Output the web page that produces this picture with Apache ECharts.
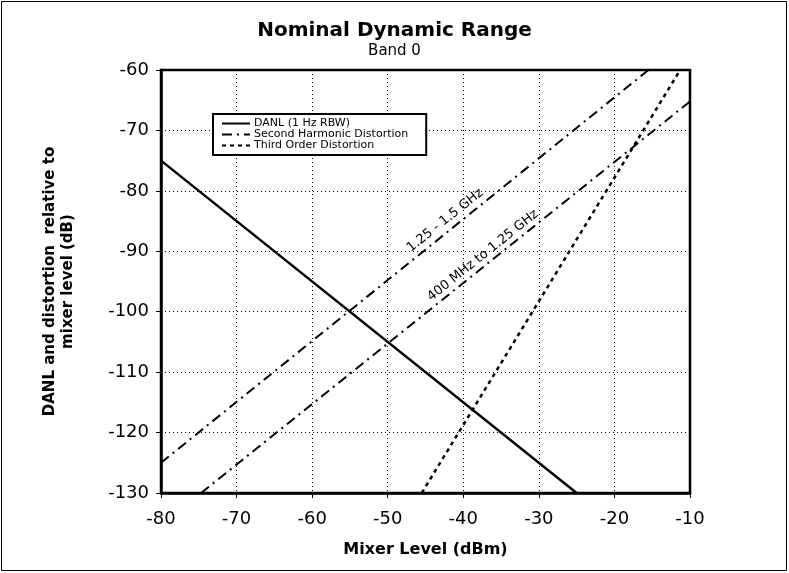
<!DOCTYPE html>
<html>
<head>
<meta charset="utf-8">
<script src="https://cdn.jsdelivr.net/npm/echarts@6/dist/echarts.min.js"></script>
<style>
  html, body { margin: 0; padding: 0; background: #fff; }
  #chart { width: 789px; height: 573px; }
</style>
</head>
<body>
<div id="chart"></div>
<script>
// Axis ranges and ticks (dBm / dB)
const xTicks = [-80, -70, -60, -50, -40, -30, -20, -10];
const yTicks = [-60, -70, -80, -90, -100, -110, -120, -130];

// DANL (1 Hz RBW): endpoints of the straight line
const danlMixer = [-80, -25];
const danlLevel = [-75, -130];

// Second harmonic distortion, 1.25 - 1.5 GHz
const shHighMixer = [-80, -15.5];
const shHighLevel = [-125, -60];

// Second harmonic distortion, 400 MHz to 1.25 GHz
const shLowMixer = [-74.7, -10];
const shLowLevel = [-130, -65.2];

// Third order distortion
const toiMixer = [-45.5, -11.3];
const toiLevel = [-130, -60];

// Band annotations placed along the second harmonic lines
const bandLabels = ['1.25 - 1.5 GHz', '400 MHz to 1.25 GHz'];
const bandLabelMixer = [-42.4, -37.4];
const bandLabelLevel = [-84.9, -90.7];

const FONT = '"DejaVu Sans", Verdana, sans-serif';

function pairs(xs, ys) {
  return xs.map((x, i) => [x, ys[i]]);
}

const chart = echarts.init(document.getElementById('chart'), null, { renderer: 'canvas' });

const option = {
  backgroundColor: '#ffffff',
  animation: false,
  title: {
    text: 'Nominal Dynamic Range',
    subtext: 'Band 0',
    left: 'center',
    top: 16,
    itemGap: 3,
    textStyle: { fontFamily: FONT, fontSize: 20, fontWeight: 'bold', color: '#000' },
    subtextStyle: { fontFamily: FONT, fontSize: 15, color: '#000' }
  },
  legend: {
    data: ['DANL (1 Hz RBW)', 'Second Harmonic Distortion', 'Third Order Distortion'],
    orient: 'vertical',
    left: 213,
    top: 114,
    padding: [4, 18, 4, 8],
    itemGap: 0,
    itemWidth: 28,
    itemHeight: 10,
    borderColor: '#000',
    borderWidth: 2,
    backgroundColor: '#fff',
    itemStyle: { opacity: 0 },
    textStyle: { fontFamily: FONT, fontSize: 11, lineHeight: 11, color: '#000', padding: [0, 0, 0, -1] }
  },
  grid: {
    left: 161,
    right: 99,
    top: 70,
    bottom: 80,
    show: true,
    borderColor: '#000',
    borderWidth: 2.5,
    backgroundColor: 'transparent'
  },
  xAxis: {
    type: 'value',
    min: -80,
    max: -10,
    interval: 10,
    name: 'Mixer Level (dBm)',
    nameLocation: 'middle',
    nameGap: 49,
    nameTextStyle: { fontFamily: FONT, fontSize: 16, fontWeight: 'bold', color: '#000' },
    axisLine: { show: true, lineStyle: { color: '#000', width: 2.5 } },
    axisTick: { show: true, length: 5, lineStyle: { color: '#000', width: 1 } },
    axisLabel: {
      fontFamily: FONT, fontSize: 18, color: '#000', margin: 17,
      formatter: v => (xTicks.includes(v) ? String(v) : '')
    },
    splitLine: { show: true, lineStyle: { color: '#000', type: [1, 3], width: 1 } }
  },
  yAxis: {
    type: 'value',
    min: -130,
    max: -60,
    interval: 10,
    name: 'DANL and distortion  relative to\nmixer level (dB)',
    nameLocation: 'middle',
    nameGap: 84,
    nameTextStyle: { fontFamily: FONT, fontSize: 15, fontWeight: 'bold', color: '#000', lineHeight: 18 },
    axisLine: { show: true, lineStyle: { color: '#000', width: 2.5 } },
    axisTick: { show: true, length: 5, lineStyle: { color: '#000', width: 1 } },
    axisLabel: {
      fontFamily: FONT, fontSize: 18, color: '#000', margin: 12,
      formatter: v => (yTicks.includes(v) ? String(v) : '')
    },
    splitLine: { show: true, lineStyle: { color: '#000', type: [1, 3], width: 1 } }
  },
  series: [
    {
      name: 'DANL (1 Hz RBW)',
      type: 'line',
      data: pairs(danlMixer, danlLevel),
      symbol: 'none',
      lineStyle: { color: '#000', width: 2.5, type: 'solid' },
      itemStyle: { color: '#000' }
    },
    {
      name: 'Second Harmonic Distortion',
      type: 'line',
      data: pairs(shHighMixer, shHighLevel),
      symbol: 'none',
      lineStyle: { color: '#000', width: 2, type: [10, 5, 2, 5] },
      itemStyle: { color: '#000' }
    },
    {
      name: 'Second Harmonic Distortion',
      type: 'line',
      data: pairs(shLowMixer, shLowLevel),
      symbol: 'none',
      lineStyle: { color: '#000', width: 2, type: [10, 5, 2, 5] },
      itemStyle: { color: '#000' }
    },
    {
      name: 'Third Order Distortion',
      type: 'line',
      data: pairs(toiMixer, toiLevel),
      symbol: 'none',
      lineStyle: { color: '#000', width: 2.5, type: [4, 4] },
      itemStyle: { color: '#000' }
    }
  ]
};

chart.setOption(option);

// Rotated band labels, aligned with the slope of the second harmonic lines
const p0 = chart.convertToPixel({ gridIndex: 0 }, [-60, -100]);
const p1 = chart.convertToPixel({ gridIndex: 0 }, [-50, -90]);
const angle = Math.atan2(p0[1] - p1[1], p1[0] - p0[0]);

const texts = bandLabels.map((t, i) => {
  const p = chart.convertToPixel({ gridIndex: 0 }, [bandLabelMixer[i], bandLabelLevel[i]]);
  return {
    type: 'text',
    x: p[0],
    y: p[1],
    rotation: angle,
    z: 10,
    style: {
      text: t,
      fontFamily: FONT,
      fontSize: 13,
      fill: '#000',
      align: 'center',
      verticalAlign: 'middle'
    }
  };
});

chart.setOption({
  graphic: [
    {
      type: 'rect',
      shape: { x: 1.5, y: 1.5, width: 785, height: 569 },
      style: { fill: 'none', stroke: '#000', lineWidth: 1 },
      silent: true
    },
    ...texts
  ]
});
</script>
</body>
</html>
